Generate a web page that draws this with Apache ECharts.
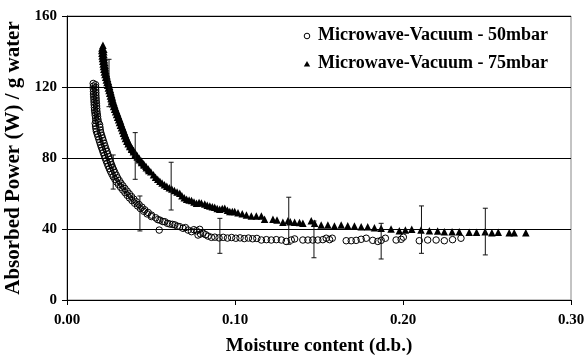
<!DOCTYPE html>
<html>
<head>
<meta charset="utf-8">
<script src="https://cdn.jsdelivr.net/npm/echarts@6/dist/echarts.min.js"></script>
<style>
  html, body { margin: 0; padding: 0; background: #fff; }
  #chart { width: 586px; height: 360px; }
</style>
</head>
<body>
<div id="chart"></div>
<script>
// moisture content (d.b.) vs absorbed power (W/g water)
const xTicks = ['0.00', '0.10', '0.20', '0.30'];
const yTicks = ['0', '40', '80', '120', '160'];
const seriesNames = ['Microwave-Vacuum - 50mbar', 'Microwave-Vacuum - 75mbar'];

const vac50 = [
  [0.0156,122.0],[0.0170,121.3],[0.0157,120.5],[0.0171,119.8],[0.0157,119.0],[0.0171,118.3],[0.0158,117.5],[0.0172,116.8],
  [0.0158,116.0],[0.0172,115.3],[0.0159,114.5],[0.0173,113.8],[0.0160,113.0],[0.0174,112.3],[0.0161,111.5],[0.0175,110.8],
  [0.0162,110.0],[0.0176,109.3],[0.0163,108.5],[0.0177,107.8],[0.0164,107.0],[0.0178,106.3],[0.0166,105.5],[0.0180,104.8],
  [0.0168,104.0],[0.0182,103.3],[0.0170,102.5],[0.0184,101.8],[0.0172,101.0],[0.0186,100.3],[0.0168,99.5],[0.0194,98.8],
  [0.0170,98.0],[0.0196,97.3],[0.0172,96.5],[0.0198,95.8],[0.0175,95.0],[0.0201,94.3],[0.0180,93.5],[0.0206,92.8],
  [0.0185,92.0],[0.0211,91.3],[0.0190,90.5],[0.0216,89.8],[0.0195,89.0],[0.0221,88.3],[0.0200,87.5],[0.0226,86.8],
  [0.0205,86.0],[0.0231,85.3],[0.0211,84.5],[0.0237,83.8],[0.0216,83.0],[0.0242,82.3],[0.0222,81.5],[0.0248,80.8],
  [0.0227,80.0],[0.0253,79.3],[0.0233,78.5],[0.0259,77.8],[0.0239,77.0],[0.0265,76.3],[0.0245,75.5],[0.0271,74.8],
  [0.0252,74.0],[0.0278,73.3],[0.0259,72.5],[0.0285,71.8],[0.0267,71.0],[0.0293,70.3],[0.0275,69.5],[0.0301,68.8],
  [0.0285,68.0],[0.0311,67.3],[0.0295,66.5],[0.0321,65.8],[0.0307,65.0],[0.0333,64.3],[0.0319,63.5],[0.0345,62.8],
  [0.0332,62.0],[0.0358,61.3],[0.0345,60.5],[0.0371,59.8],[0.0358,59.0],[0.0384,58.3],[0.0372,57.5],[0.0398,56.8],
  [0.0387,56.0],[0.0413,55.3],[0.0403,54.5],[0.0429,53.8],[0.0420,53.0],[0.0446,52.3],[0.0437,51.5],[0.0463,50.8],
  [0.0457,50.0],[0.0483,49.3],[0.0477,48.5],[0.0503,47.8],[0.0502,47.0],[0.0528,46.3],
  [0.0540,45.3],[0.0553,45.0],[0.0549,39.4],[0.0570,44.2],[0.0582,44.1],
  [0.0598,43.2],[0.0612,42.8],[0.0628,42.6],[0.0642,42.3],[0.0657,41.6],[0.0671,41.3],[0.0691,40.4],[0.0705,40.8],
  [0.0721,39.4],[0.0741,38.5],[0.0755,39.6],[0.0771,39.0],[0.0790,39.8],[0.0780,36.6],[0.0795,37.2],[0.0810,37.6],
  [0.0825,36.8],[0.0840,36.0],[0.0860,35.3],[0.0880,35.4],[0.0905,35.0],[0.0930,35.3],[0.0955,34.9],[0.0980,35.2],
  [0.1005,34.8],[0.1030,35.0],[0.1055,34.6],[0.1080,34.9],[0.1105,34.5],[0.1130,34.7],[0.1157,33.8],[0.1187,34.0],
  [0.1216,33.8],[0.1246,34.0],[0.1276,33.8],[0.1305,33.0],[0.1335,33.8],[0.1355,34.4],[0.1404,33.8],[0.1434,33.8],
  [0.1463,33.8],[0.1493,33.8],[0.1523,34.0],[0.1543,34.8],[0.1563,34.0],[0.1579,34.8],[0.1662,33.4],[0.1692,33.4],
  [0.1721,33.6],[0.1751,34.2],[0.1781,34.8],[0.1820,33.6],[0.1850,33.0],[0.1870,33.6],[0.1895,34.8],[0.1959,33.8],
  [0.1989,34.2],[0.2002,35.4],[0.2097,33.4],[0.2147,33.8],[0.2197,33.8],[0.2246,33.4],[0.2295,34.0],[0.2345,34.8]
];

const vac75 = [
  [0.0214,143.5],[0.0208,142.0],[0.0219,141.3],[0.0207,140.5],[0.0219,139.8],[0.0208,139.0],[0.0220,138.3],[0.0209,137.5],
  [0.0221,136.8],[0.0211,136.0],[0.0223,135.3],[0.0213,134.5],[0.0225,133.8],[0.0215,133.0],[0.0227,132.3],[0.0217,131.5],
  [0.0229,130.8],[0.0219,130.0],[0.0231,129.3],[0.0222,128.5],[0.0234,127.8],[0.0226,127.0],[0.0238,126.3],[0.0230,125.5],
  [0.0242,124.8],[0.0234,124.0],[0.0246,123.3],[0.0238,122.5],[0.0250,121.8],[0.0242,121.0],[0.0254,120.3],[0.0246,119.5],
  [0.0258,118.8],[0.0250,118.0],[0.0262,117.3],[0.0254,116.5],[0.0266,115.8],[0.0258,115.0],[0.0270,114.3],[0.0262,113.5],
  [0.0274,112.8],[0.0267,112.0],[0.0279,111.3],[0.0272,110.5],[0.0284,109.8],[0.0277,109.0],[0.0289,108.3],[0.0283,107.5],
  [0.0295,106.8],[0.0289,106.0],[0.0301,105.3],[0.0295,104.5],[0.0307,103.8],[0.0301,103.0],[0.0313,102.3],[0.0307,101.5],
  [0.0319,100.8],[0.0312,100.0],[0.0324,99.3],[0.0318,98.5],[0.0330,97.8],[0.0324,97.0],[0.0336,96.3],[0.0330,95.5],
  [0.0342,94.8],[0.0336,94.0],[0.0348,93.3],[0.0342,92.5],[0.0354,91.8],[0.0348,91.0],[0.0360,90.3],[0.0356,89.5],
  [0.0368,88.8],[0.0364,88.0],[0.0376,87.3],[0.0373,86.5],[0.0385,85.8],[0.0384,85.0],[0.0396,84.3],[0.0395,83.5],
  [0.0407,82.8],[0.0406,82.0],[0.0418,81.3],[0.0418,80.5],[0.0430,79.8],[0.0431,79.0],[0.0443,78.3],[0.0444,77.5],
  [0.0456,76.8],[0.0458,76.0],[0.0470,75.3],[0.0472,74.5],[0.0484,73.8],[0.0487,73.0],[0.0499,72.3],
  [0.0515,70.5],[0.0527,69.2],[0.0540,68.0],[0.0553,66.9],[0.0566,65.9],[0.0580,65.0],
  [0.0594,64.1],[0.0609,63.3],[0.0624,62.5],[0.0639,61.7],[0.0655,60.9],[0.0671,60.1],[0.0684,58.8],[0.0698,57.6],
  [0.0712,56.8],[0.0727,56.4],[0.0741,56.0],[0.0756,55.2],[0.0771,54.5],[0.0786,54.9],[0.0800,54.6],[0.0820,54.1],
  [0.0835,53.4],[0.0850,53.0],[0.0865,52.6],[0.0879,52.2],[0.0894,51.6],[0.0909,51.1],[0.0924,51.5],[0.0939,51.7],
  [0.0955,50.5],[0.0969,49.8],[0.0984,49.9],[0.0998,49.8],[0.1018,49.2],[0.1043,48.6],[0.1068,47.9],[0.1097,47.3],
  [0.1127,47.3],[0.1157,47.3],[0.1176,45.5],[0.1226,45.5],[0.1250,45.1],[0.1285,43.8],[0.1315,44.7],[0.1329,44.1],
  [0.1355,43.8],[0.1384,43.6],[0.1404,43.2],[0.1454,44.7],[0.1474,43.2],[0.1513,42.3],[0.1553,42.3],[0.1592,41.7],
  [0.1632,42.3],[0.1671,41.9],[0.1711,41.7],[0.1751,41.3],[0.1790,41.3],[0.1830,40.7],[0.1870,40.4],[0.1929,40.0],
  [0.1978,39.0],[0.2014,39.4],[0.2052,39.8],[0.2107,39.4],[0.2157,39.0],[0.2206,38.9],[0.2246,38.5],[0.2292,38.5],
  [0.2335,38.5],[0.2394,38.1],[0.2438,38.1],[0.2489,38.5],[0.2529,37.9],[0.2567,38.1],[0.2632,37.9],[0.2662,37.9],
  [0.2731,37.9]
];

// [x, low, high]
const err50 = [[0.0275,62.5,81.7],[0.0434,38.9,58.6],[0.091,26.3,46.0],[0.147,23.8,44.5],[0.187,23.1,43.2]];
const err75 = [[0.025,108.9,135.6],[0.0406,68.0,94.3],[0.062,50.7,77.6],[0.132,31.4,57.9],[0.211,26.3,53.0],[0.249,25.4,51.7]];

const serif = "'Liberation Serif', 'Times New Roman', serif";
const legendFont = 'bold 18px ' + serif;

const chart = echarts.init(document.getElementById('chart'), null, { renderer: 'canvas' });

function errorBar(params, api) {
  const x = api.value(0);
  const lo = api.coord([x, api.value(1)]);
  const hi = api.coord([x, api.value(2)]);
  const style = { stroke: '#111', lineWidth: 1 };
  return {
    type: 'group',
    children: [
      { type: 'line', shape: { x1: lo[0], y1: lo[1], x2: hi[0], y2: hi[1] }, style },
      { type: 'line', shape: { x1: hi[0] - 2.5, y1: hi[1], x2: hi[0] + 2.5, y2: hi[1] }, style },
      { type: 'line', shape: { x1: lo[0] - 2.5, y1: lo[1], x2: lo[0] + 2.5, y2: lo[1] }, style }
    ]
  };
}

const option = {
  backgroundColor: '#fff',
  animation: false,
  textStyle: { fontFamily: serif },
  grid: {
    left: 67, right: 15, top: 16, bottom: 60,
    outerBoundsMode: 'none', containLabel: false,
    show: true, borderColor: '#888', borderWidth: 1
  },
  // legend drawn by hand so that it keeps the serif font
  graphic: [
    { type: 'circle', shape: { cx: 307, cy: 36, r: 2.8 }, style: { fill: 'none', stroke: '#000', lineWidth: 1 } },
    { type: 'text', left: 318, top: 26, style: { text: seriesNames[0], font: legendFont, fill: '#000' } },
    { type: 'polygon', shape: { points: [[307, 61], [303.8, 66.5], [310.2, 66.5]] }, style: { fill: '#000' } },
    { type: 'text', left: 318, top: 54, style: { text: seriesNames[1], font: legendFont, fill: '#000' } }
  ],
  xAxis: {
    type: 'value',
    min: 0,
    max: 0.3,
    interval: 0.1,
    name: 'Moisture content (d.b.)',
    nameLocation: 'middle',
    nameGap: 37,
    nameTextStyle: { fontFamily: serif, fontWeight: 'bold', fontSize: 19, color: '#000' },
    axisLine: { show: true, lineStyle: { color: '#000', width: 1 } },
    axisTick: { show: true, inside: false, length: 5, lineStyle: { color: '#000' } },
    axisLabel: {
      margin: 13,
      fontFamily: serif, fontWeight: 'bold', fontSize: 15, color: '#000',
      formatter: (v) => xTicks[Math.round(v * 10)]
    },
    splitLine: { show: false }
  },
  yAxis: {
    type: 'value',
    min: 0,
    max: 160,
    interval: 40,
    name: 'Absorbed Power (W) / g water',
    nameLocation: 'middle',
    nameGap: 43,
    nameTextStyle: { fontFamily: serif, fontWeight: 'bold', fontSize: 21, color: '#000' },
    axisLine: { show: true, lineStyle: { color: '#000', width: 1 } },
    axisTick: { show: true, inside: false, length: 5, lineStyle: { color: '#000' } },
    axisLabel: {
      margin: 10,
      fontFamily: serif, fontWeight: 'bold', fontSize: 15, color: '#000',
      formatter: (v) => yTicks[Math.round(v / 40)]
    },
    splitLine: { show: true, lineStyle: { color: '#000', width: 1 } }
  },
  series: [
    {
      name: seriesNames[0],
      type: 'scatter',
      symbol: 'circle',
      symbolSize: 6.5,
      itemStyle: { color: 'rgba(255,255,255,0)', borderColor: '#000', borderWidth: 1, opacity: 1 },
      data: vac50,
      z: 3
    },
    {
      name: seriesNames[1],
      type: 'scatter',
      symbol: 'triangle',
      symbolSize: 7.5,
      itemStyle: { color: '#000', opacity: 1 },
      data: vac75,
      z: 3
    },
    { type: 'custom', renderItem: errorBar, data: err50, z: 4, silent: true },
    { type: 'custom', renderItem: errorBar, data: err75, z: 4, silent: true }
  ]
};

chart.setOption(option);
</script>
</body>
</html>
